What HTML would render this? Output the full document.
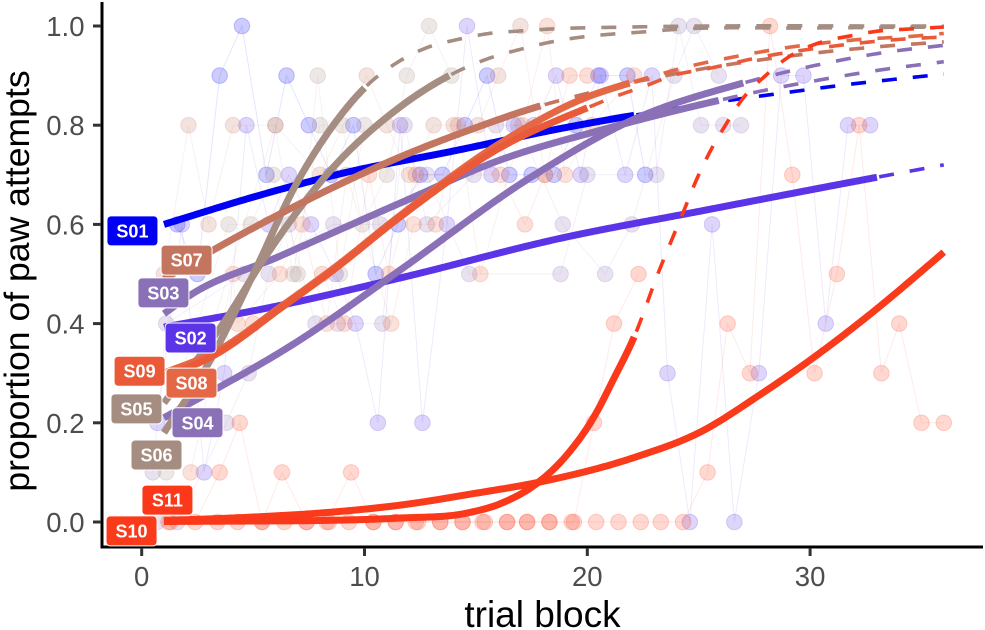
<!DOCTYPE html>
<html lang="en">
<head>
<meta charset="utf-8">
<title>Proportion of paw attempts by trial block</title>
<style>
html,body{margin:0;padding:0;background:#fff;}
#chart{display:block;width:985px;height:630px;font-family:"Liberation Sans",Arial,sans-serif;}
</style>
</head>
<body>
<svg id="chart" xmlns="http://www.w3.org/2000/svg" width="985" height="630" viewBox="0 0 985 630">
  <g id="points-layer"></g>
  <g id="curves-layer"></g>
  <g id="axes-layer">
    <rect x="100.5" y="2" width="3" height="546.5" fill="#000"></rect>
    <rect x="100.5" y="545.5" width="882.5" height="3" fill="#000"></rect>
  </g>
  <g id="labels-layer"></g>
  <text x="542.5" y="627" text-anchor="middle" font-size="37" fill="#000">trial block</text>
  <text transform="translate(29,281) rotate(-90)" text-anchor="middle" font-size="35.6" fill="#000">proportion of paw attempts</text>
</svg>
<script>
// Tick labels
const xTicks = [0, 10, 20, 30];
const yTicks = [0, 0.2, 0.4, 0.6, 0.8, 1.0];

// Subjects
const subjects = ['S01','S02','S03','S04','S05','S06','S07','S08','S09','S10','S11'];
const subjectColors = ['#0000f5','#5a34e6','#8a70b6','#8a70b6','#a58d82','#a58d82','#c4755f','#e46846','#ea5a38','#f93a1b','#fc381a'];

// Observed points: trial position and proportion for each subject
const S01_trial = [1.6,2.5,3.5,4.5,5.6,6.5,7.5,8.5,9.5,10.5,11.5,12.5,13.5,14.5,15.5,16.5,17.5,18.5,19.5,20.5,21.8,22.6];
const S01_prop  = [.6,.5,.9,1,.7,.9,.8,.7,.8,.5,.6,.7,.7,.8,.9,.7,.7,.7,.8,.9,.9,.7];
const S02_trial = [.7,1.8,2.8,3.7,4.7,5.7,6.6,7.6,8.7,9.6,10.6,11.6,12.6,13.7,14.6,15.7,16.7,17.6,18.6,19.7,20.6,21.7,22.9,23.6,24.6,25.6,26.6,27.7,28.7,29.7,30.7,31.7,32.7];
const S02_prop  = [.2,.6,.1,.3,.8,.6,.7,.6,.5,.4,.2,.8,.2,.6,1,.7,.8,.8,.9,.7,.9,.7,.9,.3,0,.6,0,.3,.9,.9,.4,.8,.8];
const S03_trial = [.7,1.6,3.8,4.8,5.7,6.6,7.8,8.8,10.8,11.8,12.8,14.9,15.9,16.9,18.9,20.8,22,23.9,24.8,25.9];
const S03_prop  = [0,0,.2,.3,.5,.6,.4,.4,.4,.8,.6,.7,.8,.8,.6,.5,.6,.9,1,.9];
const S04_trial = [.5,1.1,4.6,8.6,10.7,12.8,14.7,18.8,20,23.1,24.1,25.1,26.1,26.9];
const S04_prop  = [.1,.4,.5,.6,.6,.7,.5,.5,.7,.7,1,.8,.8,.8];
const S05_trial = [1.8,3.9,4.9,5.9,6.8,8,9,9.9,11,11.9,12.9,13.9];
const S05_prop  = [.3,.6,.6,.7,.5,.8,.8,.6,.7,.9,1,.9];
const S06_trial = [1.1,6,7,7.9,8.9,10];
const S06_prop  = [.1,.8,.5,.9,.5,.8];
const S07_trial = [1,2.1,3,4.1,6,8,10.1,11,12,13.1,14,15.1,16,17,18.1];
const S07_prop  = [.5,.8,.6,.8,.8,.7,.9,.8,.7,.8,.8,.8,.9,1,.7];
const S08_trial = [2.2,4.1,4.3,6.2,7.2,8.3,9.2,11.2,12.2,13.2,14.2,15.2,17.1,18.2,19,20.2,22.1];
const S08_prop  = [.1,.5,.4,.5,.6,.4,.7,.4,.6,.6,.8,.5,.8,1,.7,.8,.9];
const S09_trial = [5,8.1,9.1,10.2,11.1,12.3,16.1,17.2,18.1,19.2,20];
const S09_prop  = [.4,.5,.4,.7,.5,.7,.7,.6,.7,.9,.9];
const S10_trial = [1.2,2.4,3.5,4.4,5.4,6.3,7.4,8.3,9.4,10.4,11.4,12.3,13.4,14.4,15.3,16.4,17.3,18.3,19.3,20.4,21.4,22.4,23.3,24.3,25.4,26.3,27.3,28.2,29.2,30.2,31.2,32.2,33.2,34,35,36];
const S10_prop  = [0,0,.1,.2,0,.1,0,0,.1,0,0,0,0,0,0,0,0,0,0,0,0,0,0,0,.1,.4,.3,1,.7,.3,.5,.8,.3,.4,.2,.2];
const S11_trial = [1.3,3.4,4.3,5.4,6.4,7.4,8.4,9.3,10.4,11.4,12.4,13.4,14.4,15.4,16.4,17.3,18.3,19.4,20.3,21.2,22.3];
const S11_prop  = [0,0,0,0,0,0,0,0,0,0,0,0,0,0,0,0,0,0,.2,.4,.5];

const pointTrials = [S01_trial,S02_trial,S03_trial,S04_trial,S05_trial,S06_trial,S07_trial,S08_trial,S09_trial,S10_trial,S11_trial];
const pointProps  = [S01_prop,S02_prop,S03_prop,S04_prop,S05_prop,S06_prop,S07_prop,S08_prop,S09_prop,S10_prop,S11_prop];

// Fitted curves
const S01_curveT = [1,5,9,14,19,22.1,26.2,28.8,31.5,34.3,36];
const S01_curveP = [.6,.655,.703,.748,.795,.82,.849,.865,.881,.895,.903];
const S02_curveT = [1,5.6,11.6,18.9,25.1,33,36];
const S02_curveP = [.393,.431,.492,.573,.627,.695,.72];
const S03_curveT = [1,2.2,6.1,11.6,16.1,20.6,25.9,27.6,30.4,33.1,36];
const S03_curveP = [.42,.458,.534,.643,.73,.79,.85,.867,.891,.911,.928];
const S04_curveT = [1,7.1,11.6,17.5,22,27,30.7,33.4,36];
const S04_curveP = [.21,.367,.508,.696,.81,.885,.925,.947,.961];
const S05_curveT = [1,3.8,5.45,8.3,11.6,13.8,15.6,17,18.4,19.8,21.2,22.5,23.9,30,36];
const S05_curveP = [.24,.41,.528,.7,.837,.9,.935,.953,.968,.978,.984,.988,.993,.996,.998];
const S06_curveT = [1,3,5.1,6.8,8.6,10,11.6,12.9,14.2,15.6,17,18.4,22,36];
const S06_curveP = [.18,.32,.508,.67,.8,.875,.93,.958,.973,.985,.99,.994,.998,1];
const S07_curveT = [1,3.2,7.7,11.6,15,17.9,19.2,24.7,27.5,30.3,33,36];
const S07_curveP = [.49,.548,.655,.736,.795,.839,.855,.91,.93,.946,.958,.968];
const S08_curveT = [1,3.4,6.3,8.6,11.6,16.1,19.9,21.9,23.6,24.8,26.5,29.2,32,34.8,36];
const S08_curveP = [.3,.345,.436,.511,.618,.764,.855,.885,.907,.921,.937,.958,.972,.98,.985];
const S09_curveT = [1,3.4,6.3,8.6,11.6,16.1,20,21.2,22.6,23.9,25.3,28.1,30.8,33.7,36];
const S09_curveP = [.29,.34,.433,.508,.615,.755,.835,.857,.879,.901,.913,.94,.958,.972,.978];
const S10_curveT = [1,5,8,11.6,15,17.8,22.1,25.1,27.7,30.2,33,35.3,36];
const S10_curveP = [.003,.01,.018,.034,.058,.08,.13,.182,.255,.333,.43,.517,.544];
const S11_curveT = [1,5,8,11.6,14.6,16.1,17.8,19.1,20.3,21.2,22.1,23.2,23.8,24.4,24.9,25.5,26.2,27,28,29.05,30.4,31.8,33.1,34.5,36];
const S11_curveP = [.001,.002,.003,.008,.018,.037,.08,.136,.212,.29,.373,.504,.57,.635,.69,.746,.8,.855,.9,.938,.966,.98,.99,.994,.998];

const curveTrials = [S01_curveT,S02_curveT,S03_curveT,S04_curveT,S05_curveT,S06_curveT,S07_curveT,S08_curveT,S09_curveT,S10_curveT,S11_curveT];
const curveProps  = [S01_curveP,S02_curveP,S03_curveP,S04_curveP,S05_curveP,S06_curveP,S07_curveP,S08_curveP,S09_curveP,S10_curveP,S11_curveP];
// Last trial of each subject's solid (observed) stretch
const solidEnd = [22.1,33,25.9,27,13.8,10,17.9,21.9,20,36,22.1];

// Label anchors in data units (left edge trial position, proportion at the label centre)
const labelTrial = [-1.56,1.05,-0.17,1.36,-1.38,-0.48,0.87,1.09,-1.24,-1.6,0.01];
const labelProp  = [.587,.371,.462,.2,.228,.135,.528,.28,.304,-.018,.044];

// Axis functions
function xScale(t){ return 141.7 + 22.28 * t; }
function yScale(p){ return 522 - 496 * p; }

const NS = 'http://www.w3.org/2000/svg';
const pointsLayer = document.getElementById('points-layer');
const curvesLayer = document.getElementById('curves-layer');
const axesLayer = document.getElementById('axes-layer');
const labelsLayer = document.getElementById('labels-layer');

function pathFrom(pts){
  return pts.map(function(q,i){ return (i ? 'L' : 'M') + q[0].toFixed(2) + ' ' + q[1].toFixed(2); }).join(' ');
}

function sampleCurve(T,P){
  const n = T.length;
  const slope = [];
  for(let i=0;i<n;i++){
    if(i===0){ slope.push((P[1]-P[0])/(T[1]-T[0])); continue; }
    if(i===n-1){ slope.push((P[n-1]-P[n-2])/(T[n-1]-T[n-2])); continue; }
    const h0 = T[i]-T[i-1], h1 = T[i+1]-T[i];
    const d0 = (P[i]-P[i-1])/h0, d1 = (P[i+1]-P[i])/h1;
    slope.push((h1*d0+h0*d1)/(h0+h1));
  }
  const out = [];
  for(let i=0;i<n-1;i++){
    const h = T[i+1]-T[i];
    const steps = Math.max(2,Math.ceil(h/0.1));
    for(let s=0;s<steps;s++){
      const u = s/steps, u2 = u*u, u3 = u2*u;
      const y = (2*u3-3*u2+1)*P[i] + (u3-2*u2+u)*h*slope[i] + (-2*u3+3*u2)*P[i+1] + (u3-u2)*h*slope[i+1];
      out.push([T[i]+u*h,y]);
    }
  }
  out.push([T[n-1],P[n-1]]);
  return out;
}

// Observed points with thin connecting lines
subjects.forEach(function(name,si){
  const color = subjectColors[si];
  const group = document.createElementNS(NS,'g');
  
  
  const tr = pointTrials[si], pr = pointProps[si];
  const line = document.createElementNS(NS,'path');
  
  
  line.setAttribute('d', pathFrom(tr.map(function(t,i){ return [xScale(t),yScale(pr[i])]; })));
  line.setAttribute('fill','none');
  line.setAttribute('stroke',color);
  line.setAttribute('stroke-opacity','0.1');
  line.setAttribute('stroke-width','1');
  group.appendChild(line);
  tr.forEach(function(t,i){
    const c = document.createElementNS(NS,'circle');
    
    
    c.setAttribute('cx',xScale(t).toFixed(2));
    c.setAttribute('cy',yScale(pr[i]).toFixed(2));
    c.setAttribute('r','7.8');
    c.setAttribute('fill',color);
    c.setAttribute('fill-opacity','0.2');
    c.setAttribute('stroke',color);
    c.setAttribute('stroke-opacity','0.2');
    c.setAttribute('stroke-width','1');
    group.appendChild(c);
  });
  pointsLayer.appendChild(group);
});

// Fitted curves: thick solid over observed trials, thin dashed beyond
subjects.forEach(function(name,si){
  const color = subjectColors[si];
  const samples = sampleCurve(curveTrials[si],curveProps[si]);
  const solid = [], dashed = [];
  samples.forEach(function(q){
    const px = [xScale(q[0]),yScale(q[1])];
    if(q[0] <= solidEnd[si]) solid.push(px);
    else if(q[0] >= solidEnd[si] + 0.1) dashed.push(px);
  });
  if(dashed.length > 1){
    const d = document.createElementNS(NS,'path');
    
    
    d.setAttribute('d',pathFrom(dashed));
    d.setAttribute('fill','none');
    d.setAttribute('stroke',color);
    d.setAttribute('stroke-width','3.6');
    d.setAttribute('stroke-dasharray','15 16');
    curvesLayer.appendChild(d);
  }
  const s = document.createElementNS(NS,'path');
  
  
  s.setAttribute('d',pathFrom(solid));
  s.setAttribute('fill','none');
  s.setAttribute('stroke',color);
  s.setAttribute('stroke-width','7');
  curvesLayer.appendChild(s);
});

// Axis ticks and tick labels
xTicks.forEach(function(v){
  const x = xScale(v);
  const tick = document.createElementNS(NS,'rect');
  
  
  tick.setAttribute('x',(x-1.5).toFixed(2));
  tick.setAttribute('y','548');
  tick.setAttribute('width','3');
  tick.setAttribute('height','8');
  tick.setAttribute('fill','#333');
  axesLayer.appendChild(tick);
  const label = document.createElementNS(NS,'text');
  
  
  label.setAttribute('x',x.toFixed(2));
  label.setAttribute('y','586');
  label.setAttribute('text-anchor','middle');
  label.setAttribute('font-size','27.5');
  label.setAttribute('fill','#4d4d4d');
  label.textContent = String(v);
  axesLayer.appendChild(label);
});
yTicks.forEach(function(v){
  const y = yScale(v);
  const tick = document.createElementNS(NS,'rect');
  
  
  tick.setAttribute('x','93');
  tick.setAttribute('y',(y-1.5).toFixed(2));
  tick.setAttribute('width','8');
  tick.setAttribute('height','3');
  tick.setAttribute('fill','#333');
  axesLayer.appendChild(tick);
  const label = document.createElementNS(NS,'text');
  
  
  label.setAttribute('x','84.5');
  label.setAttribute('y',(y+10).toFixed(2));
  label.setAttribute('text-anchor','end');
  label.setAttribute('font-size','27.5');
  label.setAttribute('fill','#4d4d4d');
  label.textContent = v.toFixed(1);
  axesLayer.appendChild(label);
});

// Subject labels
subjects.forEach(function(name,si){
  const x = xScale(labelTrial[si]);
  const y = yScale(labelProp[si]);
  const group = document.createElementNS(NS,'g');
  
  
  const box = document.createElementNS(NS,'rect');
  
  
  box.setAttribute('x',x.toFixed(2));
  box.setAttribute('y',(y-15).toFixed(2));
  box.setAttribute('width','51');
  box.setAttribute('height','30');
  box.setAttribute('rx','4');
  box.setAttribute('fill',subjectColors[si]);
  box.setAttribute('stroke','#fff');
  box.setAttribute('stroke-width','1');
  group.appendChild(box);
  const text = document.createElementNS(NS,'text');
  
  
  text.setAttribute('x',(x+25.5).toFixed(2));
  text.setAttribute('y',(y+6.5).toFixed(2));
  text.setAttribute('text-anchor','middle');
  text.setAttribute('font-size','18');
  text.setAttribute('font-weight','bold');
  text.setAttribute('fill','#fff');
  text.textContent = name;
  group.appendChild(text);
  labelsLayer.appendChild(group);
});
</script>
</body>
</html>
